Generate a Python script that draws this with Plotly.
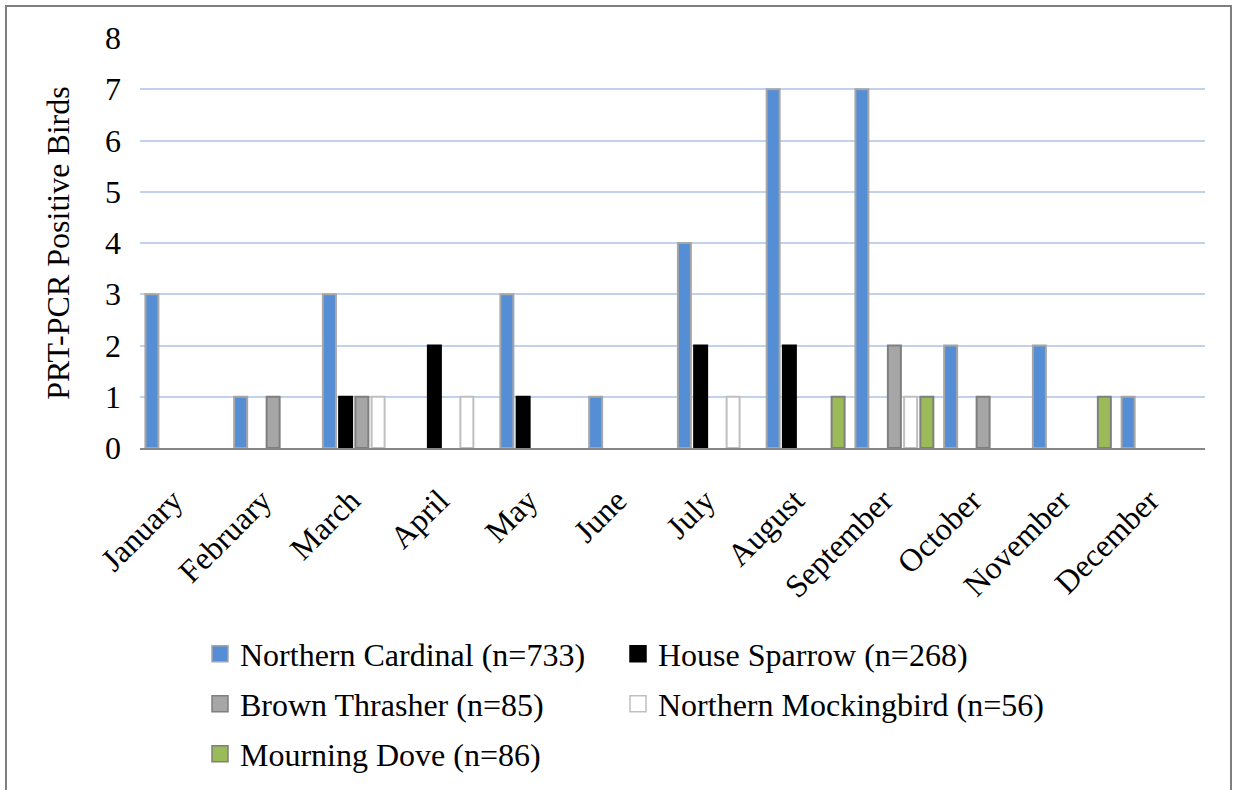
import plotly.graph_objects as go

months = ["January", "February", "March", "April", "May", "June", "July",
          "August", "September", "October", "November", "December"]

northern_cardinal = [3, 1, 3, 0, 3, 1, 4, 7, 7, 2, 2, 1]
house_sparrow = [0, 0, 1, 2, 1, 0, 2, 2, 0, 0, 0, 0]
brown_thrasher = [0, 1, 1, 0, 0, 0, 0, 0, 2, 1, 0, 0]
northern_mockingbird = [0, 0, 1, 1, 0, 0, 1, 0, 1, 0, 0, 0]
mourning_dove = [0, 0, 0, 0, 0, 0, 0, 1, 1, 0, 1, 0]

series_names = ["Northern Cardinal (n=733)", "House Sparrow (n=268)",
                "Brown Thrasher (n=85)", "Northern Mockingbird (n=56)",
                "Mourning Dove (n=86)"]
series_values = [northern_cardinal, house_sparrow, brown_thrasher,
                 northern_mockingbird, mourning_dove]
y_ticks = [0, 1, 2, 3, 4, 5, 6, 7, 8]

fills = ["#558ED5", "#000000", "#A6A6A6", "#FFFFFF", "#9BBB59"]
edges = ["#A6A6A6", "#000000", "#7F7F7F", "#BFBFBF", "#7F7F7F"]

FONT = "Liberation Serif, Times New Roman, serif"
FS = 32
W, H = 1233, 790
ML, MR, MT, MB = 140, 28, 38, 342

pw = W - ML - MR
ph = H - MT - MB


def px_x(x):
    return (x - ML) / pw


def px_y(y):
    return (H - MB - y) / ph


# legend laid out as two columns, three rows (pixel anchors)
col_px = [200, 618]
row_px = [654, 704, 754]
legend_ids = ["legend", "legend2", "legend3", "legend4", "legend5"]

fig = go.Figure()
for name, vals, fc, ec in zip(series_names, series_values, fills, edges):
    # months with no positive birds get no bar at all
    fig.add_trace(go.Bar(
        x=months, y=[v if v else None for v in vals], name=name,
        showlegend=False,
        marker=dict(color=fc, line=dict(color=ec, width=2)),
    ))
# legend swatches
for name, fc, ec, lg in zip(series_names, fills, edges, legend_ids):
    fig.add_trace(go.Scatter(
        x=[None], y=[None], mode="markers", name=name, legend=lg,
        marker=dict(symbol="square", size=16, color=fc,
                    line=dict(color=ec, width=1.5)),
    ))

fig.add_shape(type="rect", xref="paper", yref="paper",
              x0=px_x(6), x1=px_x(1231), y0=px_y(6), y1=px_y(820),
              line=dict(color="#7F7F7F", width=2), fillcolor="rgba(0,0,0,0)")

legend_layout = {}
for i, lg in enumerate(legend_ids):
    legend_layout[lg] = dict(
        orientation="h", xanchor="left", yanchor="middle",
        x=px_x(col_px[i % 2]), y=px_y(row_px[i // 2]),
        font=dict(family=FONT, size=FS),
        itemclick=False, itemdoubleclick=False,
        bgcolor="rgba(0,0,0,0)")

fig.update_layout(
    width=W, height=H,
    margin=dict(l=ML, r=MR, t=MT, b=MB, autoexpand=False),
    paper_bgcolor="white", plot_bgcolor="white",
    barmode="group", bargap=0.085, bargroupgap=0.2,
    font=dict(family=FONT, size=FS, color="black"),
    showlegend=True,
    xaxis=dict(tickangle=-45, showgrid=False, showline=True,
               linecolor="#868686", linewidth=2, ticks="",
               ticklabelstandoff=19, ticklabelshift=-11,
               tickfont=dict(family=FONT, size=FS)),
    yaxis=dict(range=[0, 8], tickvals=y_ticks, showgrid=True,
               gridcolor="#C2D2EE", gridwidth=2, zeroline=False,
               showline=False, ticks="", ticklabelstandoff=18,
               tickfont=dict(family=FONT, size=FS),
               title=dict(text="PRT-PCR Positive Birds", standoff=25,
                          font=dict(family=FONT, size=FS))),
    **legend_layout,
)

fig.write_html("out.html")
